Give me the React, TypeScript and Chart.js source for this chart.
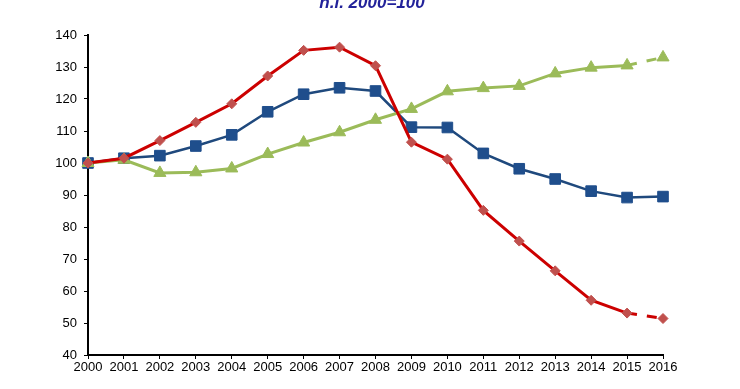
import React, { useEffect, useRef } from "react";
import { Chart, registerables } from "chart.js";

Chart.register(...registerables);

const years = ["2000","2001","2002","2003","2004","2005","2006","2007","2008","2009","2010","2011","2012","2013","2014","2015","2016"];
const redSeries = [100, 101.5, 107, 112.7, 118.5, 127.2, 135.2, 136.2, 130.4, 106.5, 101.2, 85.2, 75.6, 66.3, 57.1, 53.1, 51.4];
const blueSeries = [100, 101.5, 102.3, 105.3, 108.8, 116, 121.5, 123.5, 122.5, 111.2, 111.1, 103, 98.2, 95, 91.2, 89.2, 89.5];
const greenSeries = [100, 101, 96.9, 97.1, 98.3, 102.8, 106.4, 109.6, 113.5, 116.9, 122.4, 123.4, 124.1, 128, 129.8, 130.5, 133];
const yTicks = [40, 50, 60, 70, 80, 90, 100, 110, 120, 130, 140];
const titleText = "n.i. 2000=100";

const dashLast = (ctx: any) => (ctx.p0DataIndex === years.length - 2 ? [10, 10] : undefined);

export default function App() {
  const ref = useRef<HTMLCanvasElement>(null);
  useEffect(() => {
    const titlePlugin = {
      id: "topTitle",
      afterDraw(chart: any) {
        const c = chart.ctx;
        c.save();
        c.font = "italic bold 17px 'Liberation Sans', Arial, sans-serif";
        c.fillStyle = "#22229A";
        c.textAlign = "center";
        c.textBaseline = "alphabetic";
        c.fillText(titleText, 372, 8);
        c.restore();
      },
    };
    const chart = new Chart(ref.current!, {
      type: "line",
      data: {
        labels: years,
        datasets: [
          {
            label: "red",
            data: redSeries,
            borderColor: "#CC0000",
            borderWidth: 3,
            pointStyle: "rectRot",
            pointRadius: 5,
            pointBackgroundColor: "#C0504D",
            pointBorderColor: "#C0504D",
            pointBorderWidth: 1,
            segment: { borderDash: dashLast },
            tension: 0,
          },
          {
            label: "green",
            data: greenSeries,
            borderColor: "#9BBB59",
            borderWidth: 3,
            pointStyle: "triangle",
            pointRadius: 7,
            pointBackgroundColor: "#9BBB59",
            pointBorderColor: "#9BBB59",
            pointBorderWidth: 1,
            segment: { borderDash: dashLast },
            tension: 0,
          },
          {
            label: "blue",
            data: blueSeries,
            borderColor: "#1F497D",
            borderWidth: 2.5,
            pointStyle: "rect",
            pointRadius: 7.5,
            pointBackgroundColor: "#1F4E8C",
            pointBorderColor: "#1F4E8C",
            pointBorderWidth: 1,
            tension: 0,
          },
        ],
      },
      options: {
        animation: false,
        responsive: false,
        maintainAspectRatio: false,
        layout: { padding: { left: 0, right: 77, top: 35, bottom: 0 } },
        plugins: { legend: { display: false }, tooltip: { enabled: false }, title: { display: false } },
        scales: {
          x: {
            type: "category",
            offset: false,
            grid: { drawOnChartArea: false, drawTicks: true, tickLength: 4, color: "#000", tickColor: "#000" },
            border: { color: "#000", width: 2 },
            ticks: {
              color: "#000",
              font: { family: "'Liberation Sans', Arial, sans-serif", size: 13 },
              padding: 1,
              maxRotation: 0,
              autoSkip: false,
            },
            afterFit: (s: any) => { s.height = 34; },
          },
          y: {
            min: 40,
            max: 140,
            afterBuildTicks: (s: any) => { s.ticks = yTicks.map((v) => ({ value: v })); },
            grid: { drawOnChartArea: false, drawTicks: true, tickLength: 4, color: "#000", tickColor: "#000" },
            border: { color: "#000", width: 2 },
            ticks: {
              color: "#000",
              font: { family: "'Liberation Sans', Arial, sans-serif", size: 13 },
              padding: 7,
            },
            afterFit: (s: any) => { s.width = 88; },
          },
        },
      },
      plugins: [titlePlugin],
    });
    return () => chart.destroy();
  }, []);
  return (
    <div style={{ position: "fixed", left: 0, top: 0, width: 740, height: 389, background: "#fff" }}>
      <canvas ref={ref} width={740} height={389} style={{ width: 740, height: 389, display: "block" }} />
    </div>
  );
}
